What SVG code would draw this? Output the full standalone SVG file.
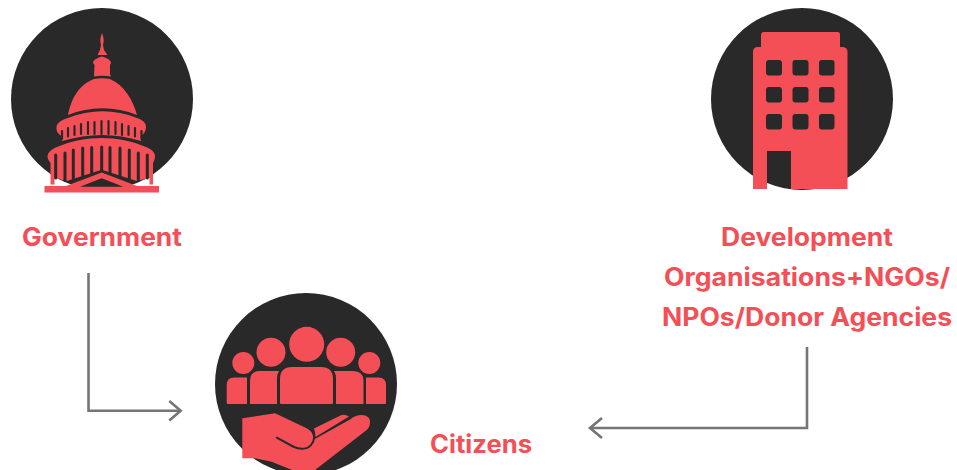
<svg xmlns="http://www.w3.org/2000/svg" width="957" height="470" viewBox="0 0 957 470">
<style>
.disc{fill:#292929}
.red{fill:#f44f57}
.slot{stroke:#292929;fill:none;stroke-linecap:round}
.cut{fill:none;stroke:#292929;stroke-linecap:round;stroke-linejoin:round}
.win{fill:#292929}
.lbl{font-family:"Inter","Liberation Sans",sans-serif;font-weight:700;font-size:25px;fill:#f44f57;text-anchor:middle}
.conn{fill:none;stroke:#757575;stroke-width:2.6}
</style>
<rect width="957" height="470" fill="#ffffff"/>
<g id="government">
<circle class="disc" cx="102" cy="99" r="91"/>
<g class="red">
<path d="M102 33C100 38 100 41 101 45L100 50L97.500 55H107.500L104 50L103 45C104 41 104 38 102 33Z"/>
<path d="M93 63C93 60 97 58 102 56.500C107 58 111 60 111 63L110 65V74L111 76.500C105 75.500 99 75.500 94 76.500L94.500 65Z"/>
<path d="M68 115C71 100 78 85 94 79C99 78 105 78 110 79C124 85 133 100 137 115C115 106 90 106 68 115Z"/>
<path d="M68 118C90 109 115 109 137 118C143 120 146 123 146 127C146 131 144 134 141 136V141C115 133 90 133 62 141L61.500 136C58 134 56 131 56.500 127C57 123 61 120 68 118Z"/>
<path d="M57 147C85 135 118 135 146 147C151 149 155 152 155 156C155 159 154 161 153 163V184.500H149.500V178L136.700 181L101.700 169.700L66.700 181L54.500 178V184.500H50.500V163C48.500 161 47.500 158 47.500 156C48 152 52 149 57 147Z"/>
<path d="M66 186L101.700 172.500L137 186H159V192.500H44.500V186Z"/>
</g>
<path class="disc" d="M80 186.700L101.700 178.300L123.300 186.700Z"/>
<g class="slot">
<path d="M62 131V139M68 128V136.500M74.500 126V135M81 124V134M88 122V134M94.500 122V134M101.500 121V134M108.500 121V134M115.500 122V134M122 124V135M128.500 126V135M135 128V136.500M141.500 131V139" stroke-width="2.200"/>
<path d="M55.700 155V178M65 153V180.500M73.300 150V178.500M82.700 148V175.500M91.700 147.500V172.500M101.700 147V170M110 147.500V172.500M120 148V175.500M129.300 150V178.500M138.300 153V180.500M147.300 155V178" stroke-width="3"/>
</g>
</g>
<g id="development-organisations">
<circle class="disc" cx="802" cy="99" r="91"/>
<path class="red" fill-rule="evenodd" d="M764 32H837.500Q840 32 840 35V47H842Q847.500 47 847.500 52V189H791V151H767V189H753V52Q753 47 758 47H761V35Q761 32 764 32Z"/>
<g class="win">
<rect x="766" y="60" width="16" height="15.500" rx="3"/><rect x="792.500" y="60" width="16" height="15.500" rx="3"/><rect x="819" y="60" width="15.500" height="15.500" rx="3"/>
<rect x="766" y="87" width="16" height="15.500" rx="3"/><rect x="792.500" y="87" width="16" height="15.500" rx="3"/><rect x="819" y="87" width="15.500" height="15.500" rx="3"/>
<rect x="766" y="114" width="16" height="15.500" rx="3"/><rect x="792.500" y="114" width="16" height="15.500" rx="3"/><rect x="819" y="114" width="15.500" height="15.500" rx="3"/>
</g>
</g>
<g id="citizens">
<circle class="disc" cx="306" cy="384" r="91"/>
<g class="red">
<circle cx="306.700" cy="344.300" r="17.500"/>
<circle cx="271" cy="352.300" r="14.500"/><circle cx="340.700" cy="352.300" r="14.500"/>
<circle cx="243.300" cy="363" r="11"/><circle cx="369.300" cy="363" r="11"/>
<path d="M280 403V379Q280 367 292 367H321Q333 367 333 379V403Q333 404 332 404H281Q280 404 280 403Z"/>
<path d="M250 404V381Q250 371 260 371H279Q277 374 277 379V404Z"/>
<path d="M363.500 404V381Q363.500 371 353 371H334Q336 374 336 379V404Z"/>
<path d="M226.700 403V385Q226.700 377.500 234 377.500H247V404H227.700Q226.700 404 226.700 403Z"/>
<path d="M386 403V385Q386 377.500 378.500 377.500H366V404H385Q386 404 386 403Z"/>
<path d="M242.300 418.300L275 413.300L306.700 428.300C312 431 314 436 313 440L350 419.500C354 416 358 415 361.700 415C367 415 370 418 370 421.700C370 425 369 428 366.700 430L315 470H292L271.700 461.700L255 458.300H242.300Z"/>
<path d="M314 428.500L341 415.200Q345 414 349 416.500L315.500 437Q315 432 314 428.500Z"/>
</g>
<path class="cut" stroke-width="2" d="M276.700 437.700L294 447C301 450 308 449 311 445C315 440 315 434 312.500 429"/>
</g>
<g id="connectors">
<path class="conn" d="M88.500 273V410.700H180"/>
<path class="conn" d="M169.300 401L180.700 410.700L169.300 420.500"/>
<path class="conn" d="M807 347V428H591"/>
<path class="conn" d="M602 418L590 428L602 438"/>
</g>
<g id="labels">
<text class="lbl" x="102" y="246" textLength="160" lengthAdjust="spacingAndGlyphs">Government</text>
<text class="lbl" x="807" y="246" textLength="172" lengthAdjust="spacingAndGlyphs">Development</text>
<text class="lbl" x="807" y="285.500" textLength="286" lengthAdjust="spacingAndGlyphs">Organisations+NGOs/</text>
<text class="lbl" x="807" y="326" textLength="290" lengthAdjust="spacingAndGlyphs">NPOs/Donor Agencies</text>
<text class="lbl" x="481" y="453" textLength="102" lengthAdjust="spacingAndGlyphs">Citizens</text>
</g>
</svg>
